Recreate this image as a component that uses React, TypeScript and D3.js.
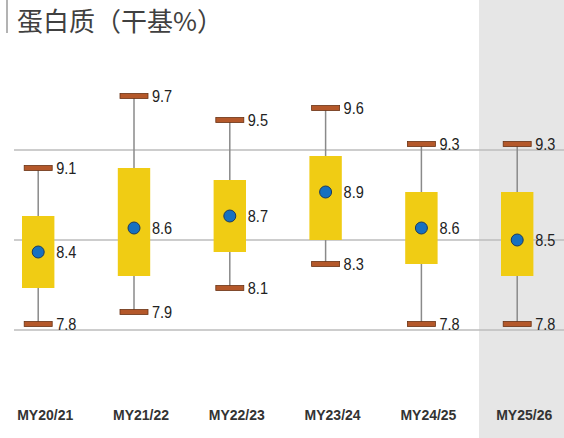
import React from "react";
import * as d3 from "d3";

const categories = ["MY20/21", "MY21/22", "MY22/23", "MY23/24", "MY24/25", "MY25/26"];
const maxValues = [9.1, 9.7, 9.5, 9.6, 9.3, 9.3];
const minValues = [7.8, 7.9, 8.1, 8.3, 7.8, 7.8];
const q3Values = [8.7, 9.1, 9.0, 9.2, 8.9, 8.9];
const q1Values = [8.1, 8.2, 8.4, 8.5, 8.3, 8.2];
const meanValues = [8.4, 8.6, 8.7, 8.9, 8.6, 8.5];
const gridTicks = [7.75, 8.5, 9.25];
const title = "蛋白质（干基%）";

const W = 564;
const H = 438;

export default function App() {
  const x = d3.scalePoint<string>().domain(categories).range([38.2, 517.2]);
  const y = d3.scaleLinear().domain([7.75, 9.25]).range([330, 150]);
  const boxW = 32.4;
  const capW = 28;
  const capH = 5;
  const numFont = "'Liberation Sans', Arial, sans-serif";

  return (
    <svg
      width={W}
      height={H}
      viewBox={`0 0 ${W} ${H}`}
      style={{ position: "absolute", left: 0, top: 0, background: "#fff" }}
    >
      <rect x={479} y={0} width={W - 479} height={H} fill="#e6e6e6" />
      <line x1={7} x2={7} y1={0} y2={33} stroke="#9a9a9a" strokeWidth={1.5} />
      <text
        x={17}
        y={31}
        fontSize={26}
        fill="#404040"
        fontFamily="'Noto Sans CJK SC', sans-serif"
      >
        {title}
      </text>
      {gridTicks.map((t) => (
        <line key={t} x1={14} x2={W} y1={y(t)} y2={y(t)} stroke="#bdbdbd" strokeWidth={1.5} />
      ))}
      {categories.map((c, i) => {
        const cx = x(c) as number;
        return (
          <g key={c}>
            <line x1={cx} x2={cx} y1={y(maxValues[i])} y2={y(minValues[i])} stroke="#8a8a8a" strokeWidth={1.5} />
            <rect
              x={cx - boxW / 2}
              y={y(q3Values[i])}
              width={boxW}
              height={y(q1Values[i]) - y(q3Values[i])}
              fill="#f0cc14"
            />
            <rect
              x={cx - capW / 2}
              y={y(maxValues[i]) - capH / 2}
              width={capW}
              height={capH}
              fill="#b4582a"
              stroke="#6a3214"
              strokeWidth={0.8}
            />
            <rect
              x={cx - capW / 2}
              y={y(minValues[i]) - capH / 2}
              width={capW}
              height={capH}
              fill="#b4582a"
              stroke="#6a3214"
              strokeWidth={0.8}
            />
            <circle cx={cx} cy={y(meanValues[i])} r={6} fill="#1670c0" stroke="#1b3b5e" strokeWidth={1} />
            {[maxValues[i], meanValues[i], minValues[i]].map((v, k) => (
              <text
                key={k}
                x={cx + 18}
                y={y(v)}
                dy="0.36em"
                fontSize={16.5}
                fill="#222"
                fontFamily={numFont}
                transform={`translate(${cx + 18} 0) scale(0.88 1) translate(${-(cx + 18)} 0)`}
              >
                {v.toFixed(1)}
              </text>
            ))}
            <text
              x={cx + 7}
              y={420}
              textAnchor="middle"
              fontSize={14}
              fontWeight="bold"
              fill="#333"
              fontFamily={numFont}
            >
              {c}
            </text>
          </g>
        );
      })}
    </svg>
  );
}
